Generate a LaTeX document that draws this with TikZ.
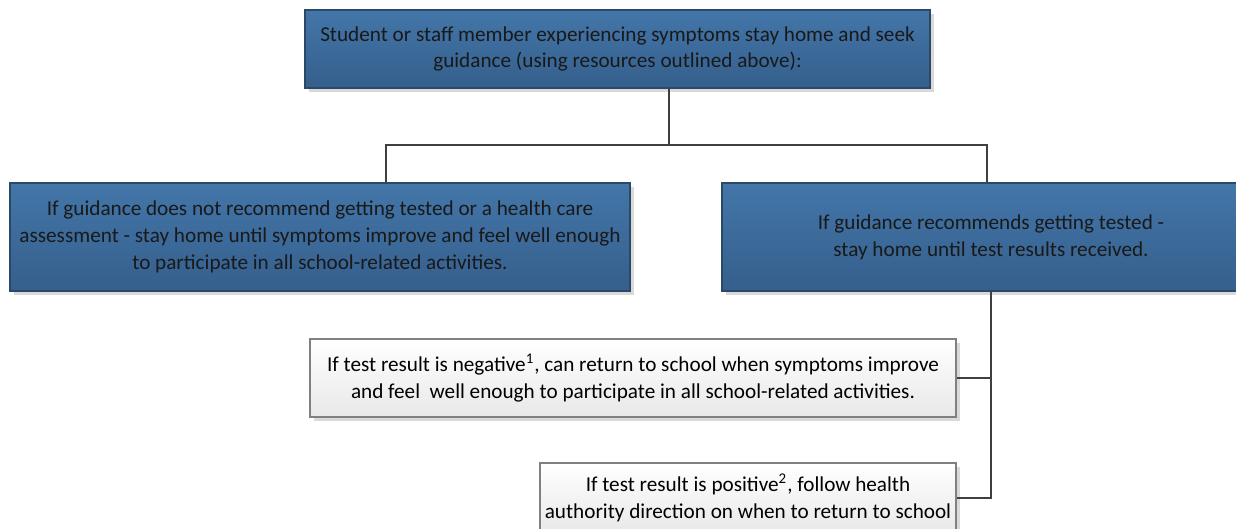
\documentclass[tikz,border=0pt]{standalone}
\usepackage{fontspec}
\setmainfont{Carlito}
\usepackage{xcolor}
\usetikzlibrary{positioning,
	calc,
	shadows}
\definecolor{bluetop}{HTML}{4376A9}
\definecolor{bluebot}{HTML}{355F8C}
\definecolor{blueline}{HTML}{2B4866}
\definecolor{greytop}{HTML}{FFFFFF}
\definecolor{greybot}{HTML}{E8E8E8}
\definecolor{connline}{HTML}{404040}
\tikzstyle{bbox}=[draw=blueline, line width=0.6pt, top color=bluetop, bottom color=bluebot,
		text=black!90, align=center, inner sep=0pt, font=\fontsize{10.6}{13.4}\selectfont,
		drop shadow={shadow xshift=1.8pt, shadow yshift=-1.8pt, fill=black!15, opacity=1}]
\tikzstyle{wbox}=[draw=black!50, line width=0.6pt, top color=greytop, bottom color=greybot,
		text=black, align=center, inner sep=0pt, font=\fontsize{10.6}{13.4}\selectfont,
		drop shadow={shadow xshift=1.8pt, shadow yshift=-1.8pt, fill=black!15, opacity=1}]
\tikzstyle{conn}=[draw=connline, line width=0.9pt]

\begin{document}
\begin{tikzpicture}[x=0.5pt, y=-0.5pt]
	\useasboundingbox (0,0) rectangle (1236,529);
	% top step
	\node[bbox, minimum width=312.5pt, minimum height=39pt] (guide) at (617.5,49)
		{Student or staff member experiencing symptoms stay home and seek\\ guidance (using resources outlined above):};
	% the two cases
	\node[bbox, minimum width=310pt, minimum height=54pt] (notest) at (320,237)
		{If guidance does not recommend getting tested or a health care\\ assessment - stay home until symptoms improve and feel well enough\\ to participate in all school-related activities.};
	\node[bbox, minimum width=269pt, minimum height=54pt] (test) at (991,237)
		{If guidance recommends getting tested -\\ stay home until test results received.};
	% test results
	\node[wbox, minimum width=323pt, minimum height=39pt] (neg) at (633,378)
		{If test result is negative\textsuperscript{1}, can return to school when symptoms improve\\ and feel\ \ well enough to participate in all school-related activities.};
	\node[wbox, minimum width=208pt, minimum height=35pt] (pos) at (748,498)
		{If test result is positive\textsuperscript{2}, follow health\\ authority direction on when to return to school};
	% connectors
	\coordinate (split) at (669,145);
	\coordinate (ldrop) at (386,145);
	\coordinate (rdrop) at (987,145);
	\draw[conn] (guide.south -| split) -- (split);
	\draw[conn] (ldrop |- notest.north) -- (ldrop) -- (rdrop) -- (rdrop |- test.north);
	\draw[conn] (test.south) -- (test.south |- pos.east) -- (pos.east);
	\draw[conn] (neg.east) -- (neg.east -| test.south);
\end{tikzpicture}
\end{document}
